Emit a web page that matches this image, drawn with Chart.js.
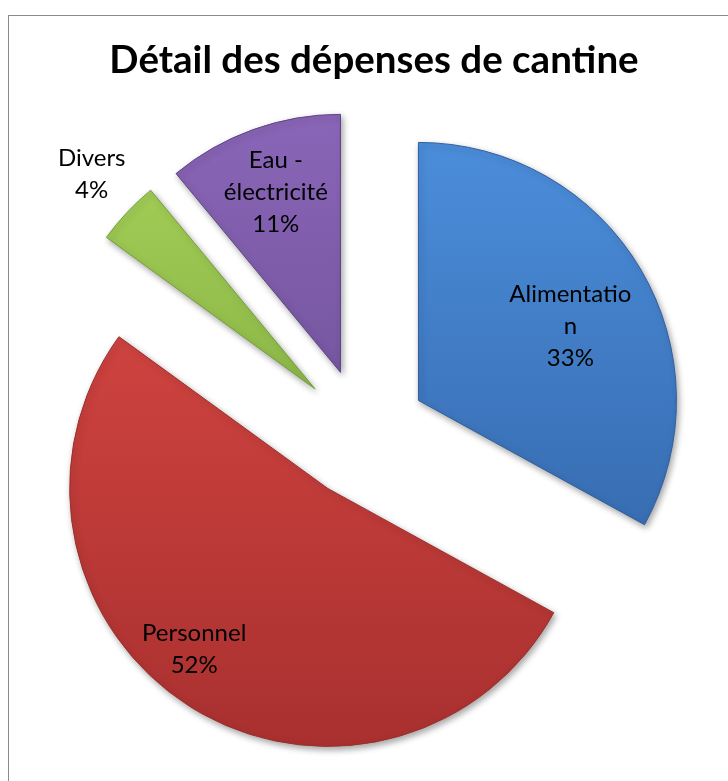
<!DOCTYPE html>
<html>
<head>
    <title>Détail des dépenses de cantine</title>
    <style type="text/css">
        body { margin: 0; background: #ffffff; }
        #chart-container { width: 728px; height: 781px; }
    </style>
</head>
<body>
    <div id="chart-container">
        <canvas id="mycanvas" width="728" height="781"></canvas>
    </div>

    <script type="text/javascript" src="https://cdn.jsdelivr.net/npm/chart.js@4.4.1/dist/chart.umd.min.js"></script>
    <script>
        // data
        var chartTitle = "Détail des dépenses de cantine";
        var categories = ["Alimentation", "Personnel", "Divers", "Eau - électricité"];
        var values = [33, 52, 4, 11];
        // how the labels wrap in the original
        var labelLines = [["Alimentatio", "n"], ["Personnel"], ["Divers"], ["Eau -", "électricité"]];

        // styles
        var sliceColors = [
            ["#4d90de", "#2c5a9a"],
            ["#e34d48", "#a8302f"],
            ["#a8d35a", "#6a9430"],
            ["#8a66b8", "#5a3f80"]
        ];
        var sliceBorders = ["#315f9e", "#9c2e2c", "#74a038", "#5e4486"];
        var explode = 65;
        // label spot: share of radius, turn from mid angle (deg)
        var labelPlacement = [
            { dist: 0.655, turn: 4.6 },
            { dist: 0.81, turn: 7.3 },
            { dist: 1.2, turn: 0.6 },
            { dist: 0.74, turn: 0 }
        ];

        function sliceFill(context) {
            var c = sliceColors[context.dataIndex];
            var g = context.chart.ctx.createLinearGradient(0, 110, 0, 750);
            g.addColorStop(0, c[0]);
            g.addColorStop(1, c[1]);
            return g;
        }

        var explodePlugin = {
            id: "explode",
            afterDatasetUpdate: function (chart, args) {
                args.meta.data.forEach(function (arc) {
                    var mid = (arc.startAngle + arc.endAngle) / 2;
                    arc.x += Math.cos(mid) * explode;
                    arc.y += Math.sin(mid) * explode;
                });
            },
            beforeDatasetDraw: function (chart) {
                var ctx = chart.ctx;
                ctx.save();
                ctx.shadowColor = "rgba(0, 0, 0, 0.35)";
                ctx.shadowBlur = 6;
                ctx.shadowOffsetX = 2;
                ctx.shadowOffsetY = 3;
            },
            afterDatasetDraw: function (chart) {
                chart.ctx.restore();
            }
        };

        var framePlugin = {
            id: "frame",
            beforeDraw: function (chart) {
                var ctx = chart.ctx;
                ctx.save();
                ctx.fillStyle = "#ffffff";
                ctx.fillRect(0, 0, chart.width, chart.height);
                ctx.strokeStyle = "#8a8a8a";
                ctx.lineWidth = 1;
                ctx.strokeRect(8.5, 15.5, chart.width + 20, chart.height + 20);
                ctx.fillStyle = "#000000";
                ctx.font = "bold 38.5px Lato";
                ctx.textAlign = "center";
                ctx.textBaseline = "alphabetic";
                ctx.fillText(chartTitle, 374, 73);
                ctx.restore();
            }
        };

        var labelPlugin = {
            id: "sliceLabels",
            afterDatasetsDraw: function (chart) {
                var ctx = chart.ctx;
                var meta = chart.getDatasetMeta(0);
                var total = values.reduce(function (a, b) { return a + b; }, 0);
                var lh = 32;
                ctx.save();
                ctx.font = "24px Lato";
                ctx.fillStyle = "#000000";
                ctx.textAlign = "center";
                ctx.textBaseline = "middle";
                meta.data.forEach(function (arc, i) {
                    var p = labelPlacement[i];
                    var ang = (arc.startAngle + arc.endAngle) / 2 + p.turn * Math.PI / 180;
                    var r = arc.outerRadius * p.dist;
                    var cx = arc.x + Math.cos(ang) * r;
                    var cy = arc.y + Math.sin(ang) * r;
                    var lines = labelLines[i].concat([Math.round(values[i] / total * 100) + "%"]);
                    var top = cy - (lines.length - 1) * lh / 2;
                    lines.forEach(function (t, k) {
                        ctx.fillText(t, cx, top + k * lh);
                    });
                });
                ctx.restore();
            }
        };

        var ctx = document.getElementById("mycanvas");

        var pieChart = new Chart(ctx, {
            type: "pie",
            data: {
                labels: categories,
                datasets: [
                    {
                        data: values,
                        backgroundColor: sliceFill,
                        borderColor: sliceBorders,
                        borderWidth: 1,
                    },
                ],
            },
            options: {
                responsive: false,
                animation: false,
                layout: {
                    padding: { left: 104, right: 107, top: 175, bottom: 89 }
                },
                plugins: {
                    legend: { display: false },
                    title: { display: false },
                    tooltip: { enabled: false }
                }
            },
            plugins: [framePlugin, explodePlugin, labelPlugin]
        });
    </script>
</body>
</html>
